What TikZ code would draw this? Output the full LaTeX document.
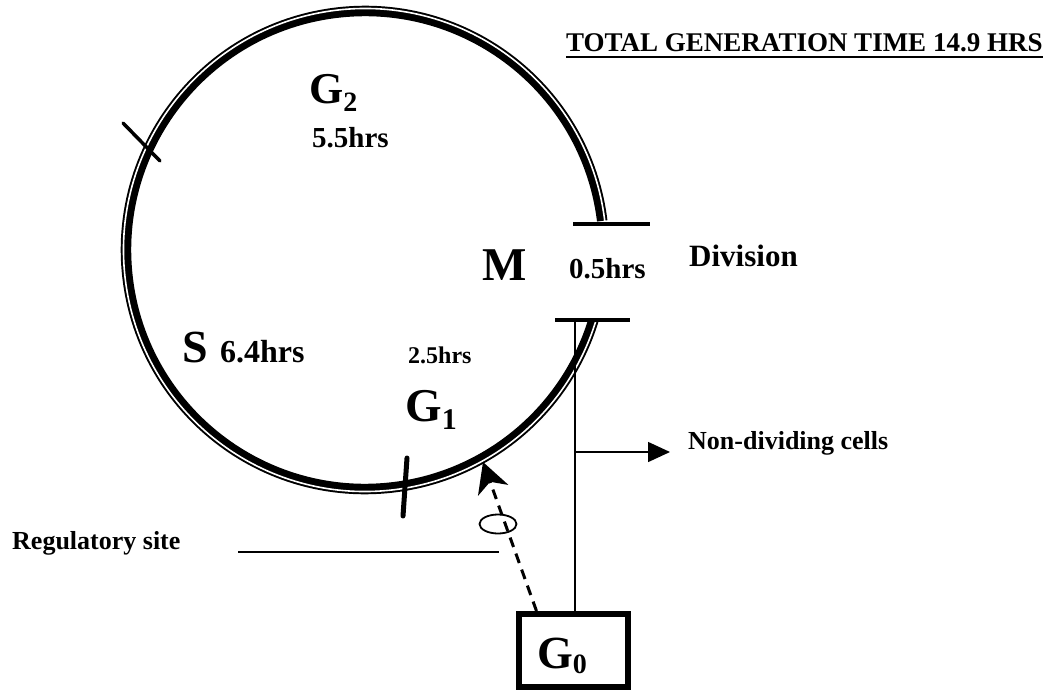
\documentclass[tikz,border=0pt]{standalone}
\usepackage{fontspec}
\setmainfont{Liberation Serif}
\usetikzlibrary{arrows.meta,shapes.geometric}
\newcommand\myfs[1]{\fontsize{#1}{#1}\selectfont\bfseries}
\begin{document}
\begin{tikzpicture}[x=1pt,y=-1pt,
  lbl/.style={inner sep=0pt, anchor=base west},
  thin/.style={line width=1.5pt},
  bar/.style={line width=4pt}]
\useasboundingbox[fill=white] (0,0) rectangle (1054,690);
% cycle circle
\coordinate (c) at (365,250);
\draw[line width=10.5pt] (c) ++(-7:239) arc[start angle=-7, end angle=-343, radius=239];
\draw[line width=1.6pt, white] (c) ++(-6:241.5) arc[start angle=-6, end angle=-344, radius=241.5];
% bars at M gap
\coordinate (b1l) at (573,224); \coordinate (b1r) at (650,224);
\coordinate (b2l) at (555,320); \coordinate (b2r) at (630,320);
\draw[bar] (b1l) -- (b1r);
\draw[bar] (b2l) -- (b2r);
% ticks
\coordinate (t1a) at (123,123); \coordinate (t1b) at (160,161);
\coordinate (t2a) at (407,458); \coordinate (t2b) at (403,516);
\draw[line width=3.5pt, line cap=round] (t1a) -- (t1b);
\draw[line width=5pt, line cap=round] (t2a) -- (t2b);
% G0 box
\node[draw, line width=6pt, minimum width=109pt, minimum height=73pt, inner sep=0pt] (g0) at (573.5,650.5) {};
\node[lbl] (g0t) at (537,668) {\myfs{46}G\raisebox{-5pt}{\myfs{28}0}};
% vertical line and arrow
\coordinate (v1) at (575,322);
\draw[thin] (v1) -- (v1 |- g0.north);
\coordinate (v2) at (575,452);
\coordinate (ae) at (670,452);
\draw[thin, -{Triangle[length=22pt,width=20pt]}] (v2) -- (ae);
% dashed arrow
\coordinate (tip) at (483,462);
\draw[line width=3pt, dash pattern=on 10pt off 7pt, -{Stealth[length=30pt,width=32pt,inset=9pt]}] ([xshift=-37pt]g0.north) -- (tip);
\node[draw, ellipse, line width=1.8pt, minimum width=37pt, minimum height=19pt, inner sep=0pt] (reg) at (498,524) {};
% regulatory line
\coordinate (r1) at (238,552); \coordinate (r2) at (499,552);
\draw[thin] (r1) -- (r2);
% labels
\node[lbl] (title) at (566,52) {\myfs{27}TOTAL GENERATION TIME 14.9 HRS};
\draw[line width=2pt] ([yshift=-5pt]title.base west) -- ([yshift=-5pt]title.base east);
\node[lbl] (g2) at (309,104) {\myfs{44}G\raisebox{-8pt}{\myfs{28}2}};
\node[lbl] (g2h) at (312,147) {\myfs{29}5.5hrs};
\node[lbl] (m) at (482,280) {\myfs{47}M};
\node[lbl] (mh) at (569,278) {\myfs{29}0.5hrs};
\node[lbl] (div) at (689,266) {\myfs{31}Division};
\node[lbl] (s) at (182,362) {\myfs{46}S};
\node[lbl] (sh) at (220,362) {\myfs{32}6.4hrs};
\node[lbl] (g1h) at (408,363) {\myfs{24}2.5hrs};
\node[lbl] (g1) at (405,421) {\myfs{47}G\raisebox{-8pt}{\myfs{30}1}};
\node[lbl] (nd) at (688,449) {\myfs{26}Non-dividing cells};
\node[lbl] (rs) at (12,549) {\myfs{26}Regulatory site};
\end{tikzpicture}
\end{document}
